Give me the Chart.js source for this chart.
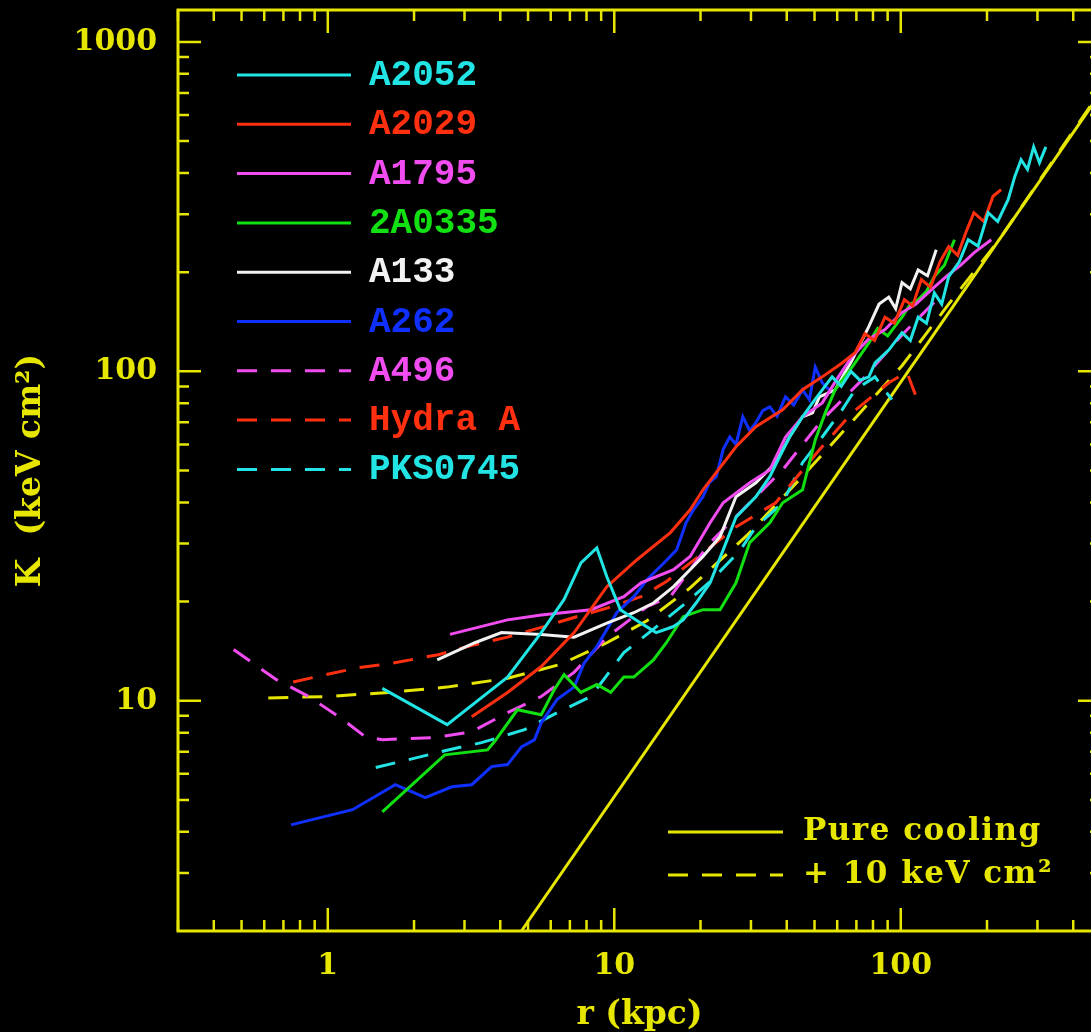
<!DOCTYPE html>
<html>
<head>
<meta charset="utf-8">
<title>Entropy profiles</title>
<script src="https://cdn.jsdelivr.net/npm/chart.js@4.4.1/dist/chart.umd.min.js"></script>
<style>
    html, body { margin: 0; padding: 0; background: #000; overflow: hidden; }
    #wrap { width: 1110px; height: 1032px; }
</style>
</head>
<body>
<div id="wrap"><canvas id="entropyChart" width="1110" height="1032"></canvas></div>
<script>
// r in kpc, K in keV cm^2
const a2052R = [1.55, 2.61, 4.24, 5.56, 6.68, 7.65, 8.69, 9.42, 10.5, 12.4, 14.0, 16.1, 17.4, 19.3, 21.6, 24.0, 26.6, 31.2, 34.9, 37.8, 40.9, 45.4, 49.2, 53.2, 57.6, 62, 67, 72, 77.4, 81.3, 90.8, 101, 108, 115, 123, 131, 139, 147, 160, 172, 186, 202, 218, 237, 250, 263, 277, 291, 305, 321];
const a2052K = [10.9, 8.46, 11.8, 16.1, 20.3, 26.2, 29.1, 23.8, 18.9, 17.2, 16.1, 16.8, 17.6, 19.8, 22.8, 28.7, 36.1, 41.6, 47.9, 55.1, 63.2, 72.8, 80.2, 87.9, 96.2, 90, 100, 94, 96.2, 106, 116, 131, 124, 146, 140, 173, 160, 194, 215, 251, 240, 303, 285, 332, 390, 439, 410, 480, 430, 480];

const a2029R = [3.18, 4.24, 5.56, 7.24, 9.42, 12.0, 15.7, 18.4, 20.4, 26.6, 31.2, 38.7, 45.4, 53.2, 62.4, 69.3, 75, 81, 88.1, 95, 103, 110, 118, 127, 137, 147, 158, 169, 180, 195, 210, 224];
const a2029K = [8.94, 10.6, 12.7, 16.1, 22.2, 26.8, 32.4, 38.0, 43.7, 59.0, 67.9, 76.4, 87.9, 96.2, 106, 114, 130, 124, 146, 140, 165, 158, 190, 180, 215, 239, 225, 265, 303, 285, 340, 356];

const a1795R = [2.67, 4.24, 5.56, 8.29, 10.8, 12.4, 16.1, 18.4, 21.6, 24.0, 29.7, 34.9, 39.6, 45.4, 53.2, 60, 67.6, 77, 88.1, 100, 113, 128, 145, 162, 180, 207];
const a1795K = [15.9, 17.6, 18.2, 18.9, 20.7, 22.8, 25.0, 27.4, 34.7, 39.9, 45.9, 50.2, 63.2, 72.8, 80.2, 95, 111, 125, 134, 150, 160, 177, 195, 210, 229, 251];

const a0335R = [1.55, 2.56, 3.61, 3.82, 4.59, 5.56, 6.17, 6.68, 7.65, 8.69, 9.72, 10.8, 11.7, 13.7, 15.2, 17.4, 20.4, 23.4, 26.6, 29.7, 34.9, 38.7, 45.4, 50.3, 54.5, 59.0, 67.6, 77.4, 83, 90, 101, 108, 115, 123, 131, 142, 154];
const a0335K = [4.60, 6.85, 7.09, 7.52, 9.39, 9.07, 10.8, 12.0, 10.6, 11.2, 10.6, 11.8, 11.8, 13.3, 15.0, 18.0, 18.9, 18.9, 22.8, 30.2, 34.7, 39.9, 43.7, 61.9, 74.8, 87.9, 103, 122, 135, 128, 146, 160, 165, 175, 194, 210, 251];

const a133R = [2.41, 3.26, 4.04, 5.56, 7.24, 9.42, 11.7, 13.7, 16.1, 20.4, 23.4, 26.6, 31.2, 36.6, 40.9, 45.4, 49.2, 52.0, 59.0, 67.6, 77.4, 84, 90.8, 96, 101, 108, 115, 124, 133];
const a133K = [13.3, 15.0, 16.1, 15.9, 15.6, 17.2, 18.5, 19.8, 22.2, 27.4, 31.5, 41.6, 45.9, 52.8, 63.2, 72.8, 74.8, 83.7, 87.9, 108, 137, 160, 168, 155, 186, 178, 203, 195, 234];

const a262R = [0.744, 1.22, 1.72, 2.19, 2.71, 3.18, 3.73, 4.24, 4.74, 5.26, 5.56, 6.32, 7.24, 7.84, 8.69, 10.2, 11.7, 13.0, 14.9, 16.5, 17.8, 18.9, 20.4, 21.5, 22.7, 24.0, 25.3, 26.6, 28.1, 29.7, 31.2, 33.0, 34.9, 37.0, 39.6, 42.3, 45.4, 48.0, 50.3, 53.2, 56.3];
const a262K = [4.2, 4.67, 5.56, 5.08, 5.48, 5.56, 6.31, 6.40, 7.24, 7.61, 8.57, 10.1, 11.0, 13.0, 14.6, 18.5, 20.7, 23.3, 26.2, 28.7, 34.7, 38.0, 41.6, 46.0, 47.9, 58.0, 63.2, 60.0, 72.8, 66.0, 69.8, 76.0, 78.0, 73.0, 83.7, 79.0, 87.9, 82.0, 103, 92.3, 87.9];

const a496R = [0.469, 0.660, 0.859, 1.13, 1.35, 1.55, 2.37, 3.18, 4.24, 5.56, 7.24, 9.42, 13.0, 15.7, 18.4, 21.6, 28.1, 38.7, 53.2, 73.3, 101, 139];
const a496K = [14.3, 11.6, 10.3, 8.76, 7.78, 7.62, 7.73, 8.05, 9.20, 10.3, 12.2, 15.6, 19.3, 20.7, 25.0, 30.2, 38.0, 50.2, 71.3, 94.2, 129, 171];

const hydraR = [0.757, 0.984, 1.28, 1.68, 2.43, 3.26, 4.24, 5.56, 7.24, 9.42, 12.4, 15.2, 20.4, 26.6, 36.6, 52.0, 67.6, 90.8, 105, 115];
const hydraK = [11.4, 12.0, 12.6, 13.0, 13.8, 14.8, 15.6, 16.7, 17.9, 19.1, 20.7, 23.0, 28.1, 33.7, 39.9, 57.8, 74.8, 92.3, 99.6, 80.7];

const pksR = [1.47, 1.91, 2.63, 3.44, 4.86, 6.32, 8.29, 10.8, 13.7, 17.4, 21.6, 27.4, 31.2, 38.7, 45.4, 53.2, 62.4, 69.3, 81.3, 93.1];
const pksK = [6.27, 6.62, 7.09, 7.46, 8.17, 9.20, 10.3, 14.0, 16.5, 19.5, 23.0, 28.5, 33.7, 39.9, 52.8, 63.2, 76.4, 87.9, 96.2, 82.0];

const coolR = [4.74, 500];
const coolK = [2.0, 703];

const floorR = [0.62, 1.0, 1.63, 2.6, 4.24, 6.5, 9.42, 13, 18.4, 29.3, 45.4, 69.3, 101, 147, 220, 330, 500];
const floorK = [10.2, 10.3, 10.6, 11.0, 11.7, 12.9, 15.0, 17.5, 22.0, 32.0, 48.0, 72.0, 104, 160, 250, 420, 713];

const xTickValues = [1, 10, 100];
const yTickValues = [10, 100, 1000];

const YELLOW = "#e6e600";
const DASH = [20, 14];

function points(rs, ks) {
    return rs.map((r, i) => ({ x: r, y: ks[i] }));
}

function series(label, rs, ks, color, dashed) {
    return {
        label: label,
        data: points(rs, ks),
        borderColor: color,
        borderWidth: 3,
        borderDash: dashed ? DASH : [],
        pointRadius: 0,
        tension: 0,
        fill: false
    };
}

const clusterSets = [
    series("A2052", a2052R, a2052K, "#22e4e4", false),
    series("A2029", a2029R, a2029K, "#ff3010", false),
    series("A1795", a1795R, a1795K, "#f04cf0", false),
    series("2A0335", a0335R, a0335K, "#12e012", false),
    series("A133", a133R, a133K, "#f2f2f2", false),
    series("A262", a262R, a262K, "#1030ff", false),
    series("A496", a496R, a496K, "#f04cf0", true),
    series("Hydra A", hydraR, hydraK, "#ff3010", true),
    series("PKS0745", pksR, pksK, "#22e4e4", true)
];
const modelSets = [
    series("Pure cooling", coolR, coolK, YELLOW, false),
    series("+ 10 keV cm\u00b2", floorR, floorK, YELLOW, true)
];

// frame with inward ticks on all four sides
const framePlugin = {
    id: "frame",
    afterDatasetsDraw(chart) {
        const { ctx, chartArea: a, scales } = chart;
        const x = scales.x;
        const y = scales.y;
        ctx.save();
        ctx.strokeStyle = YELLOW;
        ctx.lineWidth = 3;
        ctx.strokeRect(a.left, a.top, a.right - a.left, a.bottom - a.top);
        ctx.lineWidth = 2.5;
        ctx.beginPath();
        for (let e = -1; e <= 3; e++) {
            for (let m = 1; m <= 9; m++) {
                const v = m * Math.pow(10, e);
                const len = m === 1 ? 23 : 11;
                if (v > x.min && v < x.max) {
                    const px = x.getPixelForValue(v);
                    ctx.moveTo(px, a.bottom);
                    ctx.lineTo(px, a.bottom - len);
                    ctx.moveTo(px, a.top);
                    ctx.lineTo(px, a.top + len);
                }
                if (v > y.min && v < y.max) {
                    const py = y.getPixelForValue(v);
                    ctx.moveTo(a.left, py);
                    ctx.lineTo(a.left + len, py);
                    ctx.moveTo(a.right, py);
                    ctx.lineTo(a.right - len, py);
                }
            }
        }
        ctx.stroke();
        ctx.restore();
    }
};

// legends drawn inside the frame, as in the original
const legendPlugin = {
    id: "keys",
    afterDatasetsDraw(chart) {
        const ctx = chart.ctx;
        const sets = chart.data.datasets;
        ctx.save();
        ctx.lineWidth = 3;
        ctx.textBaseline = "middle";
        ctx.textAlign = "left";

        ctx.font = "bold 36px 'Liberation Mono', monospace";
        for (let i = 0; i < clusterSets.length; i++) {
            const ds = sets[i];
            const yy = 75 + i * 49.3;
            ctx.strokeStyle = ds.borderColor;
            ctx.setLineDash(ds.borderDash);
            ctx.beginPath();
            ctx.moveTo(237, yy);
            ctx.lineTo(351, yy);
            ctx.stroke();
            ctx.fillStyle = ds.borderColor;
            ctx.fillText(ds.label, 369, yy + 1);
        }

        ctx.font = "bold 31px 'DejaVu Serif', serif";
        ctx.letterSpacing = "1.5px";
        for (let j = 0; j < modelSets.length; j++) {
            const ds = sets[clusterSets.length + j];
            const yy = 832 + j * 43;
            ctx.strokeStyle = ds.borderColor;
            ctx.setLineDash(ds.borderDash);
            ctx.beginPath();
            ctx.moveTo(668, yy);
            ctx.lineTo(783, yy);
            ctx.stroke();
            ctx.fillStyle = ds.borderColor;
            ctx.fillText(ds.label, 803, yy);
        }
        ctx.restore();
    }
};

const tickFont = { family: "'DejaVu Serif', serif", size: 30, weight: "bold" };
const titleFont = { family: "'DejaVu Serif', serif", size: 33, weight: "bold" };

new Chart(document.getElementById("entropyChart"), {
    type: "line",
    data: { datasets: clusterSets.concat(modelSets) },
    options: {
        responsive: false,
        animation: false,
        devicePixelRatio: 1,
        layout: { padding: { top: 10, right: 9, left: 0, bottom: 0 } },
        plugins: {
            legend: { display: false },
            tooltip: { enabled: false }
        },
        scales: {
            x: {
                type: "logarithmic",
                min: 0.316,
                max: 500,
                grid: { display: false, drawTicks: false },
                border: { display: false },
                afterBuildTicks: (s) => { s.ticks = xTickValues.map(v => ({ value: v })); },
                afterFit: (s) => {
                    s.height = 101;
                    s.paddingLeft = 0;
                    s.paddingRight = 0;
                },
                ticks: {
                    color: YELLOW,
                    font: tickFont,
                    padding: 17,
                    maxRotation: 0,
                    callback: (v) => String(v)
                },
                title: {
                    display: true,
                    text: "r (kpc)",
                    color: YELLOW,
                    font: titleFont,
                    padding: { top: 0, bottom: -3 }
                }
            },
            y: {
                type: "logarithmic",
                min: 2,
                max: 1250,
                grid: { display: false, drawTicks: false },
                border: { display: false },
                afterBuildTicks: (s) => { s.ticks = yTickValues.map(v => ({ value: v })); },
                afterFit: (s) => {
                    s.width = 178;
                    s.paddingTop = 0;
                    s.paddingBottom = 0;
                },
                ticks: {
                    color: YELLOW,
                    font: tickFont,
                    padding: 21,
                    callback: (v) => String(v)
                },
                title: {
                    display: true,
                    text: "K  (keV cm\u00b2)",
                    color: YELLOW,
                    font: titleFont,
                    padding: { top: 12, bottom: 0 }
                }
            }
        }
    },
    plugins: [framePlugin, legendPlugin]
});
</script>
</body>
</html>
